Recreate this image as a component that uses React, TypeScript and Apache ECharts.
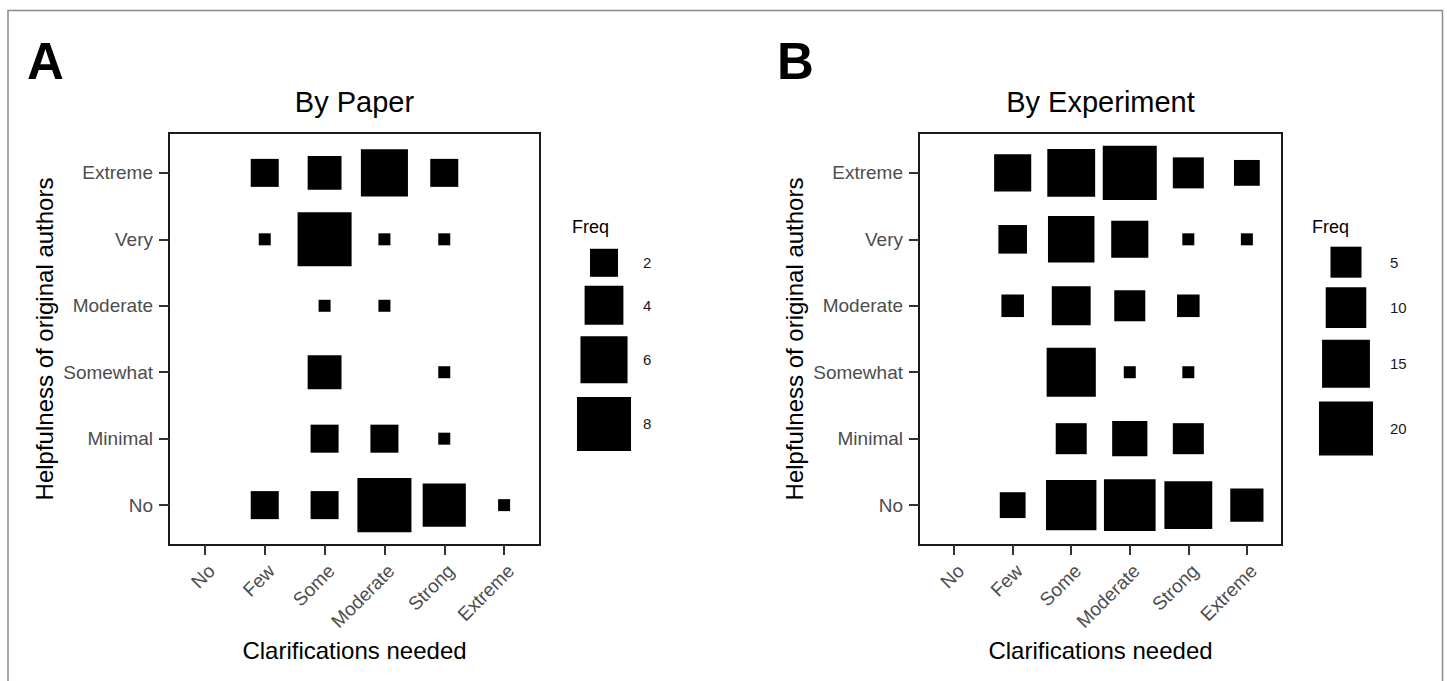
import React, { useEffect, useRef } from "react";
import * as echarts from "echarts";

// ---------- data ----------
const CLARIFICATIONS = ["No", "Few", "Some", "Moderate", "Strong", "Extreme"];
const HELPFULNESS = ["No", "Minimal", "Somewhat", "Moderate", "Very", "Extreme"];

// By Paper: counts for each helpfulness level across clarification levels
const paperHelpNo = [0, 2, 2, 8, 5, 1];
const paperHelpMinimal = [0, 0, 2, 2, 1, 0];
const paperHelpSomewhat = [0, 0, 3, 0, 1, 0];
const paperHelpModerate = [0, 0, 1, 1, 0, 0];
const paperHelpVery = [0, 1, 8, 1, 1, 0];
const paperHelpExtreme = [0, 2, 3, 6, 2, 0];

// By Experiment
const expHelpNo = [0, 3, 17, 18, 15, 6];
const expHelpMinimal = [0, 0, 5, 7, 5, 0];
const expHelpSomewhat = [0, 0, 16, 1, 1, 0];
const expHelpModerate = [0, 2, 9, 5, 2, 0];
const expHelpVery = [0, 4, 14, 8, 1, 1];
const expHelpExtreme = [0, 8, 15, 20, 5, 3];

const paperLegendBreaks = [2, 4, 6, 8];
const expLegendBreaks = [5, 10, 15, 20];

// ---------- styling ----------
const FONT = "'Liberation Sans', Arial, Helvetica, sans-serif";
const PAPER_SIZE = { minPx: 12, offset: 2, perSqrt: 18.4 };
const EXP_SIZE = { minPx: 12, offset: 8, perSqrt: 10.29 };
const sizeOf = (v: number, s: { minPx: number; offset: number; perSqrt: number }) =>
  v <= 1 ? s.minPx : s.offset + s.perSqrt * Math.sqrt(v);

const PLOT_TOP = 133;
const PLOT_HEIGHT = 412;

const panels = [
  {
    letter: "A",
    letterX: 27,
    title: "By Paper",
    left: 169,
    width: 371,
    rows: [paperHelpNo, paperHelpMinimal, paperHelpSomewhat, paperHelpModerate, paperHelpVery, paperHelpExtreme],
    size: PAPER_SIZE,
    breaks: paperLegendBreaks,
    legendLeft: 572,
    legendTop: 245,
    keyDx: 32,
    labelDx: 71,
  },
  {
    letter: "B",
    letterX: 777,
    title: "By Experiment",
    left: 919,
    width: 363,
    rows: [expHelpNo, expHelpMinimal, expHelpSomewhat, expHelpModerate, expHelpVery, expHelpExtreme],
    size: EXP_SIZE,
    breaks: expLegendBreaks,
    legendLeft: 1312,
    legendTop: 242.5,
    keyDx: 34,
    labelDx: 78,
  },
];

function buildOption() {
  const positions = CLARIFICATIONS.map((_, k) => k + 1);
  const graphic: any[] = [
    {
      type: "rect",
      z: -10,
      shape: { x: 8, y: 10.5, width: 1434.5, height: 700 },
      style: { fill: "none", stroke: "#8a8a8a", lineWidth: 1.5 },
    },
  ];

  panels.forEach((p) => {
    graphic.push({
      type: "text",
      x: p.letterX,
      y: 61.5,
      style: {
        text: p.letter,
        font: `bold 51px ${FONT}`,
        fill: "#000",
        textAlign: "left",
        textVerticalAlign: "middle",
      },
    });
    graphic.push({
      type: "text",
      x: p.left + p.width / 2,
      y: 102,
      style: {
        text: p.title,
        font: `29px ${FONT}`,
        fill: "#000",
        textAlign: "center",
        textVerticalAlign: "middle",
      },
    });
    graphic.push({
      type: "text",
      x: p.legendLeft,
      y: 227,
      style: {
        text: "Freq",
        font: `18px ${FONT}`,
        fill: "#000",
        textAlign: "left",
        textVerticalAlign: "middle",
      },
    });
    let cursor = p.legendTop;
    const cx = p.legendLeft + p.keyDx;
    p.breaks.forEach((b) => {
      const w = sizeOf(b, p.size);
      const kh = w * 1.27;
      const cy = cursor + kh / 2;
      cursor += kh;
      graphic.push({
        type: "rect",
        shape: { x: cx - w / 2, y: cy - w / 2, width: w, height: w },
        style: { fill: "#000" },
      });
      graphic.push({
        type: "text",
        x: p.legendLeft + p.labelDx,
        y: cy,
        style: {
          text: String(b),
          font: `15px ${FONT}`,
          fill: "#1a1a1a",
          textAlign: "left",
          textVerticalAlign: "middle",
        },
      });
    });
  });

  return {
    animation: false,
    backgroundColor: "#ffffff",
    textStyle: { fontFamily: FONT },
    grid: panels.map((p) => ({
      left: p.left,
      top: PLOT_TOP,
      width: p.width,
      height: PLOT_HEIGHT,
      show: true,
      borderColor: "#1a1a1a",
      borderWidth: 2,
      backgroundColor: "transparent",
    })),
    xAxis: panels.map((p, i) => ({
      type: "value",
      gridIndex: i,
      min: 0.4,
      max: 6.6,
      splitLine: { show: false },
      axisLine: { show: true, onZero: false, lineStyle: { color: "#1a1a1a", width: 2 } },
      axisTick: {
        show: true,
        length: 10,
        customValues: positions,
        lineStyle: { color: "#333333", width: 2 },
      },
      axisLabel: {
        customValues: positions,
        rotate: 45,
        margin: 16,
        verticalAlign: "top",
        fontSize: 19,
        color: "#4d4d4d",
        fontFamily: FONT,
        formatter: (v: number) => CLARIFICATIONS[Math.round(v) - 1] ?? "",
      },
      name: "Clarifications needed",
      nameLocation: "middle",
      nameGap: 87,
      nameTextStyle: { fontSize: 24, color: "#000", fontFamily: FONT },
    })),
    yAxis: panels.map((p, i) => ({
      type: "value",
      gridIndex: i,
      min: 0.4,
      max: 6.6,
      splitLine: { show: false },
      axisLine: { show: true, onZero: false, lineStyle: { color: "#1a1a1a", width: 2 } },
      axisTick: {
        show: true,
        length: 10,
        customValues: positions,
        lineStyle: { color: "#333333", width: 2 },
      },
      axisLabel: {
        customValues: positions,
        margin: 16,
        fontSize: 19,
        color: "#4d4d4d",
        fontFamily: FONT,
        formatter: (v: number) => HELPFULNESS[Math.round(v) - 1] ?? "",
      },
      name: "Helpfulness of original authors",
      nameLocation: "middle",
      nameGap: 113,
      nameTextStyle: { fontSize: 24, color: "#000", fontFamily: FONT },
    })),
    series: panels.map((p, i) => {
      const data: number[][] = [];
      p.rows.forEach((row, r) => {
        row.forEach((v, c) => {
          if (v > 0) data.push([c + 1, r + 1, v]);
        });
      });
      return {
        type: "scatter",
        xAxisIndex: i,
        yAxisIndex: i,
        symbol: "rect",
        symbolSize: (val: number[]) => sizeOf(val[2], p.size),
        itemStyle: { color: "#000", opacity: 1 },
        silent: true,
        data,
      };
    }),
    graphic,
  };
}

export default function App() {
  const ref = useRef<HTMLDivElement>(null);
  useEffect(() => {
    if (!ref.current) return;
    const chart = echarts.init(ref.current, null, { renderer: "svg" });
    chart.setOption(buildOption() as any);
    return () => chart.dispose();
  }, []);
  return (
    <div
      ref={ref}
      style={{ position: "absolute", left: 0, top: 0, width: 1447, height: 681, background: "#fff" }}
    />
  );
}
